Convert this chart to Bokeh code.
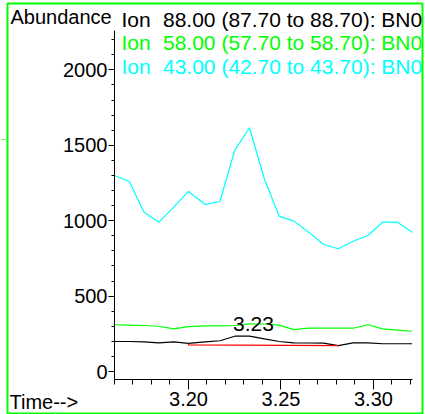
from bokeh.plotting import figure
from bokeh.models import Label, FixedTicker, NumeralTickFormatter, Range1d
from bokeh.embed import file_html
from bokeh.resources import INLINE

# Retention times (min)
times = [3.160, 3.168, 3.176, 3.184, 3.192, 3.200, 3.209, 3.217, 3.225, 3.233,
         3.241, 3.249, 3.257, 3.265, 3.273, 3.281, 3.289, 3.297, 3.305, 3.313, 3.321]
# Ion 88.00 (black)
ion88 = [199, 199, 197, 190, 196, 186, 196, 204, 234, 234,
         216, 199, 190, 189, 188, 172, 190, 190, 184, 184, 184]
# Ion 58.00 (green)
ion58 = [310, 308, 305, 300, 283, 298, 303, 303, 305, 316,
         315, 308, 278, 287, 287, 287, 287, 310, 283, 275, 267]
# Ion 43.00 (cyan)
ion43 = [1300, 1260, 1056, 990, 1090, 1194, 1107, 1127, 1466, 1616,
         1278, 1030, 997, 924, 842, 814, 864, 902, 990, 990, 922]

# Integration baseline of the labelled peak
base_t = [3.200, 3.200, 3.281]
base_v = [186, 176, 172]
peak_rt = 3.233
peak_label = "3.23"

ion_word = "Ion"
legend_texts = ["88.00 (87.70 to 88.70): BN0",
                "58.00 (57.70 to 58.70): BN0",
                "43.00 (42.70 to 43.70): BN0"]
legend_colors = ["#000000", "#00ff00", "#00ffff"]
y_title = "Abundance"
x_title = "Time-->"

x_major = [3.20, 3.25, 3.30]
x_minor = [3.16, 3.17, 3.18, 3.19, 3.20, 3.21, 3.22, 3.23, 3.24, 3.25,
           3.26, 3.27, 3.28, 3.29, 3.30, 3.31, 3.32]
y_major = [0, 500, 1000, 1500, 2000]
y_minor = [0, 100, 200, 300, 400, 500, 600, 700, 800, 900, 1000, 1100,
           1200, 1300, 1400, 1500, 1600, 1700, 1800, 1900, 2000, 2100, 2200]

FONT = "Liberation Sans"
W, H = 425, 414

# ---------------- main chart ----------------
p = figure(width=W, height=H, output_backend="svg", toolbar_location=None,
           x_range=(3.160, 3.3211), y_range=(-53, 2261),
           min_border_left=114, min_border_right=13, min_border_top=30,
           min_border_bottom=35)
p.styles = {"position": "absolute", "left": "0px", "top": "0px"}
p.outline_line_color = None
p.xgrid.visible = False
p.ygrid.visible = False
p.background_fill_color = "white"
p.border_fill_color = "white"

p.line(times, ion43, color="#00ffff", line_width=1.2)
p.line(times, ion58, color="#00ff00", line_width=1.2)
p.line(times, ion88, color="#000000", line_width=1.2)
p.line(base_t, base_v, color="#ff0000", line_width=1.2)

p.add_layout(Label(x=peak_rt, y=max(ion88), text=peak_label, y_offset=12, x_offset=4,
                   text_align="center", text_baseline="alphabetic",
                   text_font=FONT, text_font_size="21px", text_color="black"))

xa = p.xaxis[0]
xa.ticker = FixedTicker(ticks=x_major, minor_ticks=x_minor)
xa.formatter = NumeralTickFormatter(format="0.00")
xa.major_tick_out = 10
xa.major_tick_in = 0
xa.minor_tick_out = 5
xa.minor_tick_in = 0
xa.major_label_standoff = 2
xa.major_label_text_font = FONT
xa.major_label_text_font_size = "20px"
xa.major_label_text_color = "black"

ya = p.yaxis[0]
ya.ticker = FixedTicker(ticks=y_major, minor_ticks=y_minor)
ya.major_tick_out = 6
ya.major_tick_in = 0
ya.minor_tick_out = 3
ya.minor_tick_in = 0
ya.major_label_standoff = 1
ya.major_label_text_font = FONT
ya.major_label_text_font_size = "20px"
ya.major_label_text_color = "black"

# ---------------- overlay for header, footer texts and outer frame ----------------
q = figure(width=W, height=H, output_backend="svg", toolbar_location=None,
           x_range=Range1d(0, W), y_range=Range1d(H, 0), title=None,
           x_axis_location=None, y_axis_location=None,
           min_border=0, min_border_left=0, min_border_right=0,
           min_border_top=0, min_border_bottom=0)
q.styles = {"position": "absolute", "left": "0px", "top": "0px"}
q.outline_line_color = None
q.background_fill_color = None
q.border_fill_color = None
q.grid.visible = False

SHIFT = 6  # compensation for how the svg text baseline lands
t20 = dict(text_font=FONT, text_font_size="20px", text_baseline="alphabetic")
t21 = dict(text_font=FONT, text_font_size="21px", text_baseline="alphabetic")
q.add_layout(Label(x=10, y=22 - SHIFT, text=y_title, text_color="black", **t20))
for i in range(3):
    yy = 25 + i * 23.4 - SHIFT
    q.add_layout(Label(x=121, y=yy, text=ion_word, text_color=legend_colors[i], **t21))
    q.add_layout(Label(x=162.5, y=yy, text=legend_texts[i], text_color=legend_colors[i], **t21))
q.add_layout(Label(x=9, y=407 - SHIFT, text=x_title, text_color="black", **t20))

# outer green frame and the small stray tick at the left edge
q.quad(left=[7], right=[422], top=[3], bottom=[413], fill_color=None,
       line_color="#00ff00", line_width=2)
q.segment(x0=[0], y0=[139], x1=[7], y1=[139], line_color="#66ff66", line_width=1)

open("out.html", "w").write(file_html([p, q], INLINE))
